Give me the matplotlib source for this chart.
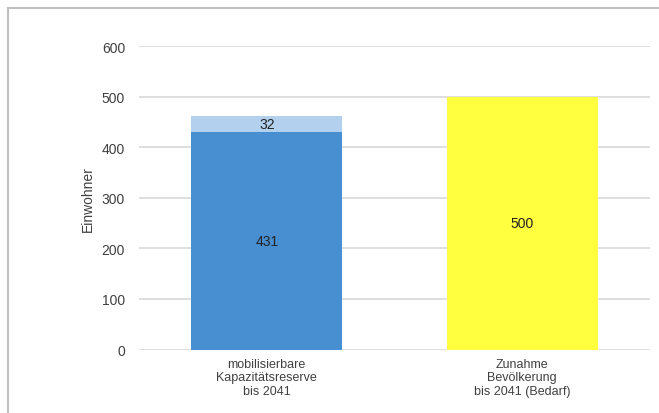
import matplotlib
matplotlib.use("Agg")
import matplotlib.pyplot as plt
from matplotlib.patches import Rectangle

categories = ["mobilisierbare\nKapazitätsreserve\nbis 2041", "Zunahme\nBevölkerung\nbis 2041 (Bedarf)"]
base_values = [431, 500]
top_values = [32, 0]
base_colors = ["#488FD2", "#FFFF40"]
top_color = "#B3D1EE"
yticks = [0, 100, 200, 300, 400, 500, 600]
ylabel = "Einwohner"

plt.rcParams['font.family'] = ['Liberation Sans', 'DejaVu Sans']
text_color = "#404040"

fig = plt.figure(figsize=(6.59, 4.14), dpi=100)
ax = fig.add_axes([139/659, 1-350.5/414, (650-139)/659, (350.5-47.3)/414])

x = list(range(len(categories)))
width = 0.59
bars = ax.bar(x, base_values, width=width, color=base_colors, zorder=2)
tops = ax.bar(x, top_values, width=width, bottom=base_values, color=top_color, zorder=2)

for i, v in enumerate(base_values):
    ax.text(x[i], v/2, str(v), ha='center', va='center', fontsize=10, color="#222222", zorder=3)
for i, v in enumerate(top_values):
    if v:
        ax.text(x[i], base_values[i] + v/2, str(v), ha='center', va='center', fontsize=10, color="#222222", zorder=3)

ax.set_xlim(-0.5, 1.5)
ax.set_ylim(0, 600)
ax.set_yticks(yticks)
ax.set_xticks(x)
ax.set_xticklabels(categories, fontsize=9, color=text_color, linespacing=1.15)
ax.tick_params(axis='y', length=0, pad=10, labelsize=10, labelcolor=text_color)
ax.tick_params(axis='x', length=0, pad=6)
ax.yaxis.grid(True, color="#D9D9D9", linewidth=1.2, zorder=0)
ax.set_axisbelow(True)
for s in ax.spines.values():
    s.set_visible(False)
ax.set_ylabel(ylabel, fontsize=10, color=text_color, labelpad=5)

# outer frame
fig.add_artist(Rectangle((8/659, -0.1), 1.2, 1 - 8.5/414 + 0.1, transform=fig.transFigure,
                         fill=False, edgecolor="#BFBFBF", linewidth=1.5))

fig.savefig("out.png", dpi=100)
